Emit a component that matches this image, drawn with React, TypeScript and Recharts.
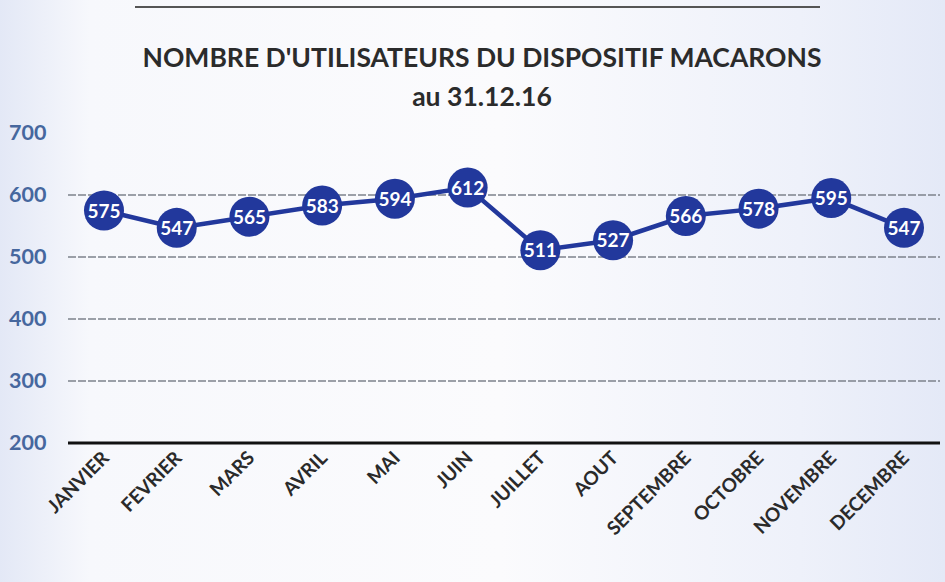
import React from "react";
import { LineChart, Line, XAxis, YAxis, CartesianGrid, ReferenceLine } from "recharts";

const months = ["JANVIER", "FEVRIER", "MARS", "AVRIL", "MAI", "JUIN", "JUILLET", "AOUT", "SEPTEMBRE", "OCTOBRE", "NOVEMBRE", "DECEMBRE"];
const users = [575, 547, 565, 583, 594, 612, 511, 527, 566, 578, 595, 547];
const yTicks = [200, 300, 400, 500, 600, 700];
const titleLine1 = "NOMBRE D'UTILISATEURS DU DISPOSITIF MACARONS";
const titleLine2 = "au 31.12.16";

const data = months.map((m, i) => ({ month: m, value: users[i] }));

const BLUE = "#22389c";
const FONT = "Lato, 'Open Sans', sans-serif";

const YTick = (props: any) => {
  const { y, payload } = props;
  return (
    <text x={9} y={y} dy={7} fill="#46679e" fontFamily={FONT} fontWeight={700} fontSize={21.5} textAnchor="start">
      {payload.value}
    </text>
  );
};

const XTick = (props: any) => {
  const { x, y, payload } = props;
  return (
    <g transform={`translate(${x + 2},${y + 4})`}>
      <text transform="rotate(-45)" textAnchor="end" fill="#2a2a2a" fontFamily={FONT} fontWeight={700} fontSize={19} dy={6}>
        {payload.value}
      </text>
    </g>
  );
};

const Dot = (props: any) => {
  const { cx, cy, value, index } = props;
  return (
    <g key={`d${index}`}>
      <circle cx={cx} cy={cy} r={20} fill={BLUE} />
      <text x={cx} y={cy} dy={7} textAnchor="middle" fill="#ffffff" fontFamily={FONT} fontWeight={700} fontSize={19}>
        {value}
      </text>
    </g>
  );
};

export default function App() {
  return (
    <div
      style={{
        position: "fixed",
        left: 0,
        top: 0,
        width: 945,
        height: 582,
        background: "linear-gradient(90deg, #e3e8f6 0px, #f7f8fc 90px, #fbfbfd 500px, #eef1fa 800px, #e4e9f7 945px)",
        overflow: "hidden",
      }}
    >
      <div style={{ position: "absolute", left: 135, top: 6, width: 685, height: 2, background: "#555" }} />
      <div
        style={{
          position: "absolute",
          left: 0,
          top: 38,
          width: 964,
          textAlign: "center",
          fontFamily: FONT,
          fontWeight: 700,
          fontSize: 26.5,
          color: "#2b2b2b",
          lineHeight: "39px",
        }}
      >
        <div>{titleLine1}</div>
        <div>{titleLine2}</div>
      </div>
      <div style={{ position: "absolute", left: 0, top: 0 }}>
        <LineChart width={945} height={582} data={data} margin={{ top: 133, right: 5, bottom: 0, left: 0 }}>
          <CartesianGrid horizontal={true} vertical={false} stroke="#7d828c" strokeDasharray="8 2" strokeWidth={1.4} horizontalValues={[300, 400, 500, 600]} />
          <XAxis dataKey="month" axisLine={false} tickLine={false} tick={<XTick />} height={139} interval={0} padding={{ left: 36, right: 36 }} />
          <YAxis domain={[200, 700]} ticks={yTicks} axisLine={false} tickLine={false} tick={<YTick />} width={68} />
          <ReferenceLine y={200} stroke="#111" strokeWidth={3} />
          <Line
            type="linear"
            dataKey="value"
            stroke={BLUE}
            strokeWidth={4.5}
            dot={<Dot />}
            activeDot={false}
            isAnimationActive={false}
          />
        </LineChart>
      </div>
    </div>
  );
}
